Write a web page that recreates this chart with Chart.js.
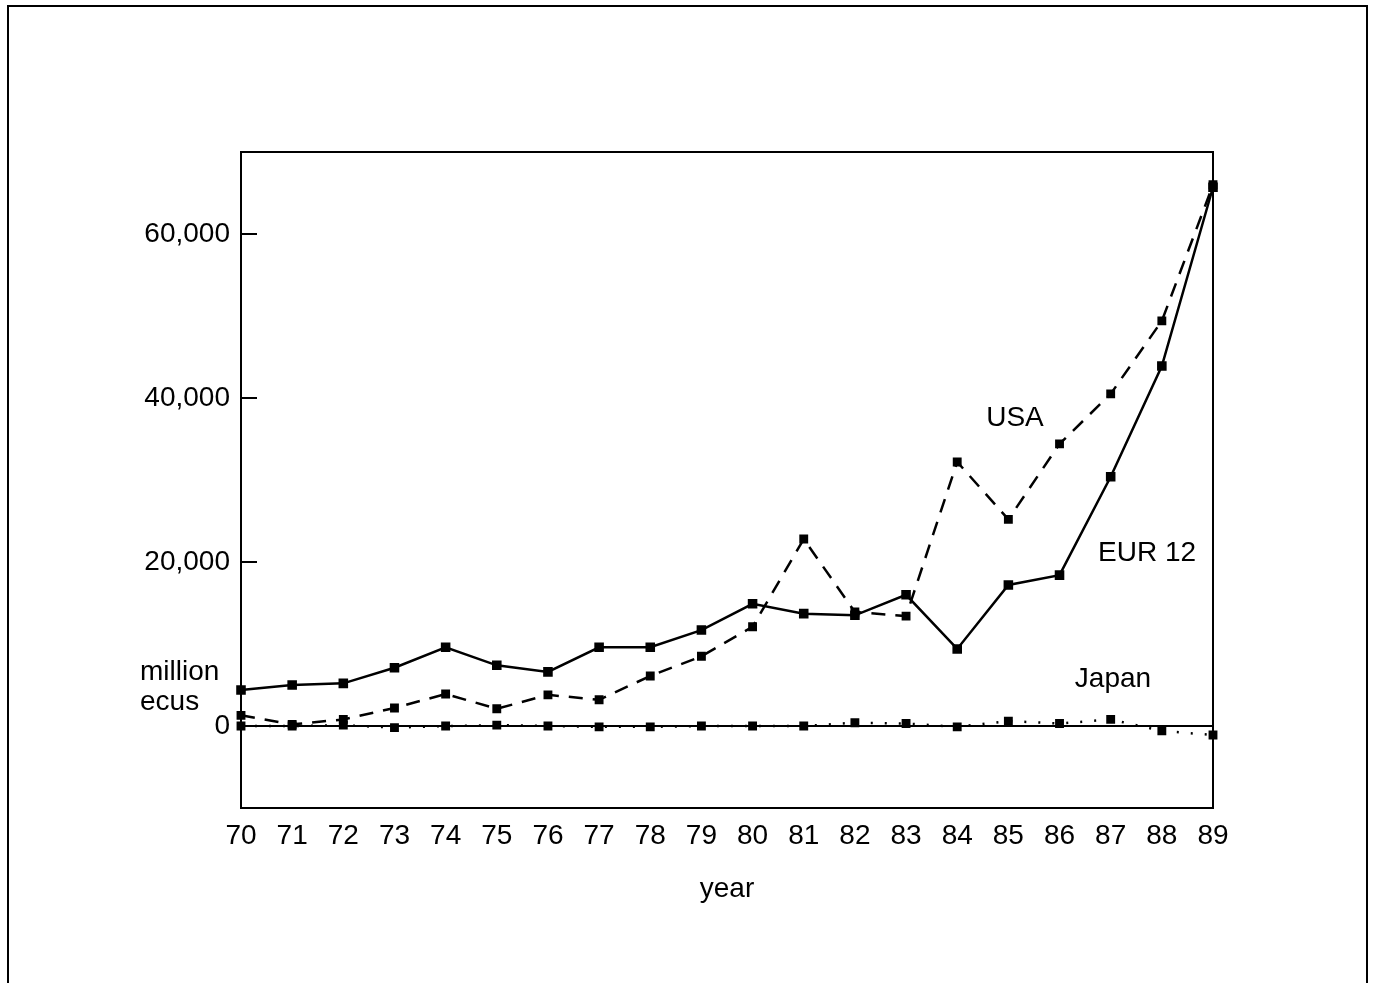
<!DOCTYPE html>
<html>
<head>
<meta charset="utf-8">
<script src="https://cdn.jsdelivr.net/npm/chart.js@4/dist/chart.umd.min.js"></script>
<style>
html,body{margin:0;padding:0;background:#fff;}
#wrap{width:1375px;height:983px;position:relative;}
</style>
</head>
<body>
<div id="wrap"><canvas id="c" width="1375" height="983"></canvas></div>
<script>
const years = ['70','71','72','73','74','75','76','77','78','79','80','81','82','83','84','85','86','87','88','89'];
const eur12 = [4400,5000,5200,7100,9600,7400,6600,9600,9600,11700,14900,13700,13500,16000,9400,17200,18400,30400,43900,65700];
const usa   = [1300,200,800,2200,3900,2100,3800,3200,6100,8500,12100,22800,13900,13400,32200,25200,34400,40500,49400,66000];
const japan = [0,0,100,-200,0,100,0,-100,-100,0,0,0,400,300,-100,600,300,800,-600,-1100];
const yTicks = [0,20000,40000,60000];
const seriesLabels = ['EUR 12','USA','Japan'];

const FONT = 'Liberation Sans, Arial, Helvetica, sans-serif';
const FS = 28;

const decor = {
  id:'decor',
  beforeDraw(chart){
    const ctx = chart.ctx;
    ctx.save();
    ctx.fillStyle = '#fff';
    ctx.fillRect(0,0,chart.width,chart.height);
    ctx.strokeStyle = '#000';
    ctx.lineWidth = 2;
    ctx.beginPath();
    ctx.moveTo(8,983); ctx.lineTo(8,6); ctx.lineTo(1367,6); ctx.lineTo(1367,983);
    ctx.stroke();
    ctx.restore();
  },
  afterDraw(chart){
    const ctx = chart.ctx, a = chart.chartArea, ys = chart.scales.y;
    ctx.save();
    ctx.strokeStyle = '#000';
    ctx.lineWidth = 2;
    ctx.strokeRect(a.left, a.top, a.right - a.left, a.bottom - a.top);
    yTicks.forEach(v => {
      const py = Math.round(ys.getPixelForValue(v));
      ctx.beginPath(); ctx.moveTo(a.left, py); ctx.lineTo(a.left + 16, py); ctx.stroke();
    });
    ctx.fillStyle = '#000';
    ctx.font = FS + 'px ' + FONT;
    ctx.textBaseline = 'middle';
    ctx.textAlign = 'center';
    ctx.fillText(seriesLabels[1], 1015, 418);
    ctx.fillText(seriesLabels[0], 1147, 553);
    ctx.fillText(seriesLabels[2], 1113, 679);
    ctx.textAlign = 'left';
    ctx.fillText('million', 140, 672);
    ctx.fillText('ecus', 140, 702);
    ctx.restore();
  }
};

new Chart(document.getElementById('c'), {
  type:'line',
  data:{
    labels: years,
    datasets:[
      {label:seriesLabels[0], data:eur12, borderColor:'#000', backgroundColor:'#000', borderWidth:2.5,
       pointStyle:'rect', pointRadius:5, tension:0, fill:false},
      {label:seriesLabels[1], data:usa, borderColor:'#000', backgroundColor:'#000', borderWidth:2.5,
       borderDash:[14,10], pointStyle:'rect', pointRadius:4.5, tension:0, fill:false},
      {label:seriesLabels[2], data:japan, borderColor:'#000', backgroundColor:'#000', borderWidth:2.5,
       borderDash:[2,12], pointStyle:'rect', pointRadius:4.5, tension:0, fill:false}
    ]
  },
  options:{
    responsive:false,
    animation:false,
    events:[],
    layout:{padding:{left:0, top:152, right:162, bottom:75}},
    plugins:{legend:{display:false}, tooltip:{enabled:false}},
    scales:{
      x:{
        type:'category', offset:false,
        grid:{display:false, drawTicks:false},
        border:{display:false},
        ticks:{color:'#000', font:{family:FONT, size:FS}, padding:11, maxRotation:0, autoSkip:false},
        title:{display:true, text:'year', color:'#000', font:{family:FONT, size:FS}, padding:{top:4, bottom:2}},
        afterFit(s){ s.height = 100; }
      },
      y:{
        min:-10000, max:70000,
        afterBuildTicks(s){ s.ticks = yTicks.map(v => ({value:v})); },
        grid:{drawTicks:false, lineWidth:2, color:(c)=> (c.tick && c.tick.value === 0) ? '#000' : 'rgba(0,0,0,0)'},
        border:{display:false},
        ticks:{color:'#000', font:{family:FONT, size:FS}, padding:11,
               callback:(v)=> Number(v).toLocaleString('en-US')},
        afterFit(s){ s.width = 241; }
      }
    }
  },
  plugins:[decor]
});
</script>
</body>
</html>
